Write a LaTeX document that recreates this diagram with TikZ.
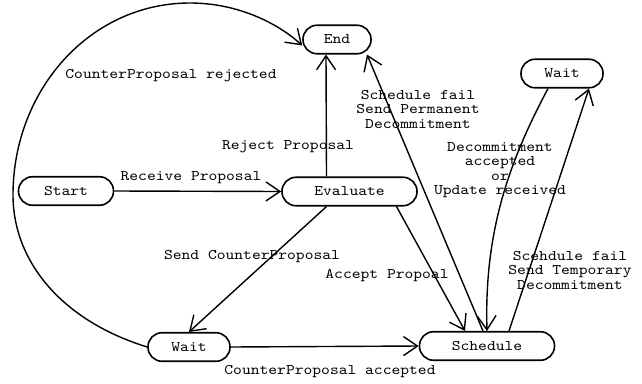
\documentclass[tikz,border=0pt]{standalone}
\usepackage{fontspec}
\setmonofont{lmmono10-regular}[Extension=.otf, FakeStretch=1.14]
\usetikzlibrary{arrows.meta,calc}
\newcommand\lblfont{\ttfamily\fontsize{14.7}{14.5}\selectfont}
\begin{document}
\begin{tikzpicture}[x=1pt,y=-1pt,
  state/.style={draw, line width=1.6pt, rounded corners=14pt, minimum height=28.5pt, inner sep=0pt, font=\lblfont},
  lbl/.style={font=\lblfont, align=center, inner sep=0pt},
  conn/.style={line width=1.4pt, -{Straight Barb[length=14pt,width=19pt,line width=1.4pt]}},
]
\useasboundingbox[fill=white] (0,0) rectangle (642,383);
% states
\node[state, minimum width=68pt]  (end)   at (337,39.5) {End};
\node[state, minimum width=82pt]  (waitr) at (562,73.5) {Wait};
\node[state, minimum width=95pt]  (start) at (66,191) {Start};
\node[state, minimum width=135pt] (eval)  at (349.5,191.5) {Evaluate};
\node[state, minimum width=82pt]  (waitb) at (189,347) {Wait};
\node[state, minimum width=135pt] (sched) at (487,346) {Schedule};
% helper points of the big arc
\coordinate (arcL) at (13,195);
\coordinate (arcT) at (190,3);
% connectors
\draw[conn] (start.east) -- (eval.west);
\draw[conn] ([xshift=-23pt]eval.north) -- ([xshift=-11pt]end.south);
\draw[conn] ([xshift=-23pt]eval.south) -- (waitb.north);
\draw[conn] ([xshift=47pt]eval.south) -- ([xshift=-22pt]sched.north);
\draw[conn] ([xshift=-4pt]sched.north) -- ([xshift=30pt]end.south);
\draw[conn] ([xshift=22pt]sched.north) -- ([xshift=27pt]waitr.south);
\draw[conn] ([xshift=-14pt]waitr.south) .. controls (510,160) and (484,230) .. (sched.north);
\draw[conn] (waitb.east) -- (sched.west);
\draw[conn] (waitb.west) .. controls (60,320) and (13,260) .. (arcL)
  .. controls (13,90) and (90,3) .. (arcT)
  .. controls (240,3) and (280,25) .. ([yshift=-6pt]end.west);
% labels
\node[lbl] (l1) at (191,178) {Receive Proposal};
\node[lbl] (l2) at (288,147) {Reject Proposal};
\node[lbl] (l3) at (171,76) {CounterProposal rejected};
\node[lbl] (l4) at (418,109) {Schedule fail\\Send Permanent\\Decommitment};
\node[lbl] (l5) at (500,170) {Decommitment\\accepted\\or\\Update received};
\node[lbl] (l6) at (252,257) {Send CounterProposal};
\node[lbl] (l7) at (387,276) {Accept Propoal};
\node[lbl] (l8) at (570,270) {Scehdule fail\\Send Temporary\\Decommitment};
\node[lbl] (l9) at (330,372) {CounterProposal accepted};
\end{tikzpicture}
\end{document}
